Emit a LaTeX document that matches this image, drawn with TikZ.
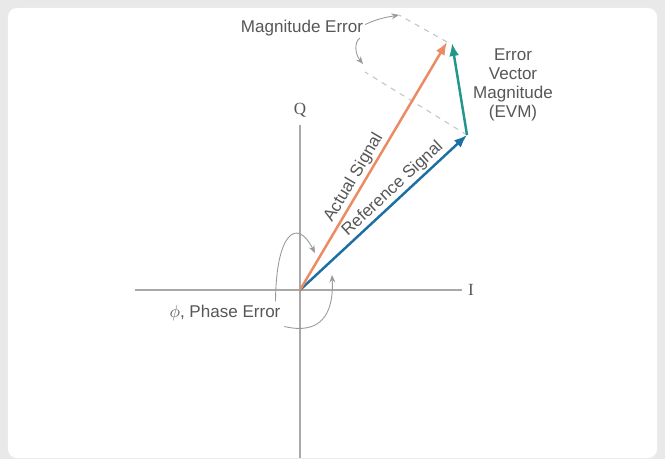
\documentclass[tikz,border=0pt]{standalone}
\usepackage{fontspec}
\setmainfont{Liberation Sans}
\newfontfamily\axisfont{Liberation Serif}
\usetikzlibrary{arrows.meta}

\definecolor{panelgray}{HTML}{E9E9E9}
\definecolor{axisgray}{HTML}{A9A9A9}
\definecolor{labelgray}{HTML}{575757}
\definecolor{pointergray}{HTML}{9A9A9A}
\definecolor{dashgray}{HTML}{C4C4C4}
\definecolor{actualorange}{HTML}{EC8A62}
\definecolor{refblue}{HTML}{1B6FA2}
\definecolor{evmteal}{HTML}{21978C}

\tikzset{
  axis/.style={draw=axisgray, line width=0.8pt},
  vec/.style={line width=1.4pt, -{Latex[length=2.6mm,width=2mm]}},
  pointer/.style={draw=pointergray, line width=0.5pt, -{Stealth[length=1.5mm,width=1.2mm]}},
  helper/.style={draw=dashgray, dashed, line width=0.6pt},
  lbl/.style={text=labelgray, font=\fontsize{9.7}{10.8}\selectfont, inner sep=1pt},
}

\begin{document}
\begin{tikzpicture}[x=0.02cm,y=0.02cm]
    % panel
    \fill[panelgray] (-300,-169) rectangle (365,290);
    \fill[white, rounded corners=5pt] (-292,-168) rectangle (357,282);
    \useasboundingbox (-300,-169) rectangle (365,290);

    % axes
    \coordinate (O) at (0,0);
    \coordinate (Iw) at (-165,0);
    \coordinate (Ie) at (162,0);
    \coordinate (Qs) at (0,-168);
    \coordinate (Qn) at (0,165);
    \draw[axis] (Iw) -- (Ie);
    \draw[axis] (Qs) -- (Qn);
    \node[lbl] (ilabel) at (171,0) {\axisfont I};
    \node[lbl] (qlabel) at (0,180) {\axisfont Q};

    % vectors
    \coordinate (R) at (167,155);
    \coordinate (A) at (147,248);
    \coordinate (E) at (152,247);
    \coordinate (Rx) at (65,218);
    \coordinate (Ax) at (99,275);
    \draw[helper] (R) -- (Rx);
    \draw[helper] (A) -- (Ax);
    \draw[vec, refblue] (O) -- node[lbl, sloped, above, pos=0.6] (reflabel) {Reference Signal} (R);
    \draw[vec, actualorange] (O) -- node[lbl, sloped, above, pos=0.43] (actlabel) {Actual Signal} (A);
    \draw[vec, evmteal] (R) -- (E);

    % labels
    \node[lbl] (magerr) at (2,262) {Magnitude Error};
    \node[lbl, align=center] (evm) at (213,205) {Error\\Vector\\Magnitude\\(EVM)};
    \node[lbl] (phase) at (-75,-23) {$\phi$, Phase Error};

    % pointers
    \coordinate (magtip) at (63,226);
    \coordinate (acttip) at (15,37);
    \coordinate (reftip) at (32,15);
    \draw[pointer] ([yshift=2pt]magerr.east) to[out=25,in=190] (Ax);
    \draw[pointer] ([xshift=-3pt]magerr.south east) .. controls (54,248) and (55,236) .. (magtip);
    \draw[pointer] ([xshift=-4pt,yshift=1pt]phase.north east) .. controls (-24,55) and (-4,74) .. (acttip);
    \draw[pointer] ([xshift=1pt,yshift=-2pt]phase.south east) .. controls (20,-45) and (34,-25) .. (reftip);
\end{tikzpicture}
\end{document}
